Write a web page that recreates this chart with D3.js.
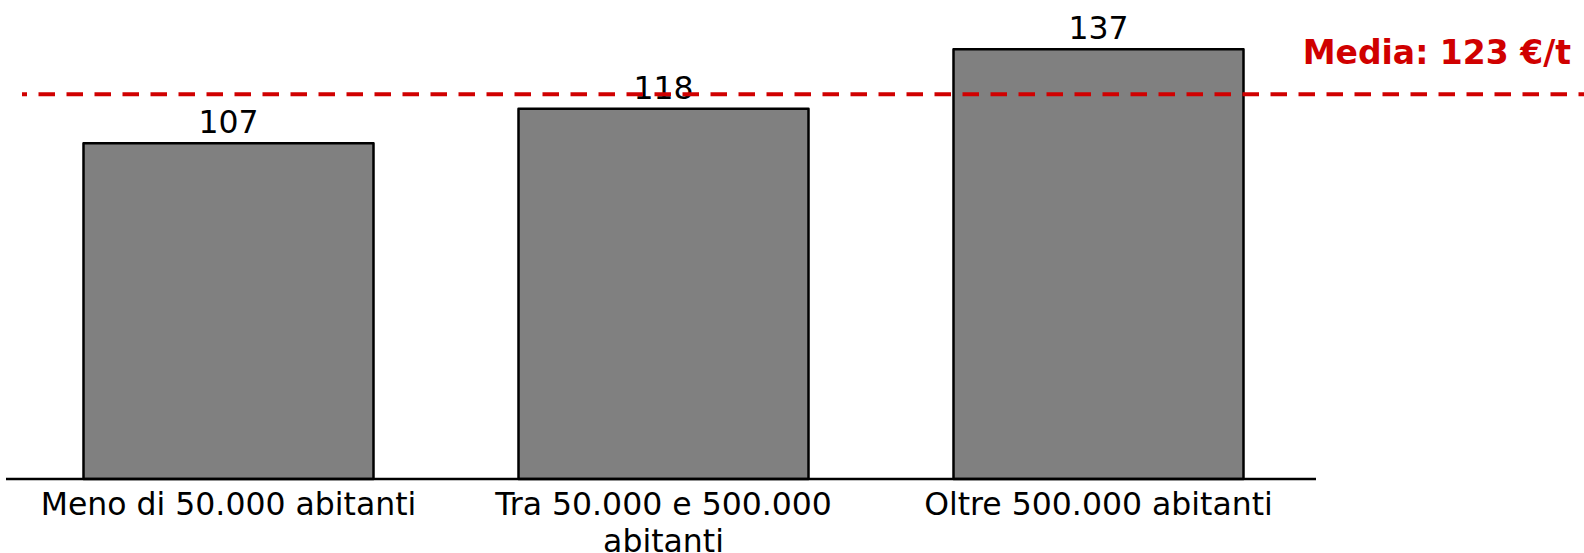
<!DOCTYPE html>
<html>
<head>
<meta charset="utf-8">
<script src="https://cdn.jsdelivr.net/npm/d3@7"></script>
<style>
  html, body { margin: 0; padding: 0; background: #fff; }
  svg { display: block; font-family: "DejaVu Sans", Verdana, sans-serif; }
</style>
</head>
<body>
<svg id="chart" width="1584" height="553"></svg>
<script>
// Costo medio per classe di popolazione (€/t)
const categories = ["Meno di 50.000 abitanti", "Tra 50.000 e 500.000 abitanti", "Oltre 500.000 abitanti"];
const values = [107, 118, 137];
const mediaValue = 123;
const mediaLabel = "Media: 123 €/t";

const W = 1584, H = 553;
const svg = d3.select("#chart");

const baseY = 479;
const x = d3.scaleBand()
  .domain(categories)
  .range([11, 1316])
  .paddingInner(1 / 3)
  .paddingOuter(1 / 6);

const y = d3.scaleLinear()
  .domain([0, 152.7])
  .range([baseY, 0]);

// Bars
svg.append("g")
  .selectAll("rect")
  .data(values)
  .join("rect")
  .attr("x", (d, i) => x(categories[i]))
  .attr("y", d => y(d))
  .attr("width", x.bandwidth())
  .attr("height", d => y(0) - y(d))
  .attr("fill", "#808080")
  .attr("stroke", "#000")
  .attr("stroke-width", 2.5)
  .attr("stroke-linejoin", "round");

// Value labels
svg.append("g")
  .selectAll("text")
  .data(values)
  .join("text")
  .attr("x", (d, i) => x(categories[i]) + x.bandwidth() / 2)
  .attr("y", d => y(d) - 10)
  .attr("text-anchor", "middle")
  .attr("font-size", 31.5)
  .attr("fill", "#000")
  .text(d => d);

// Category axis
const xAxis = d3.axisBottom(x).tickSize(0).tickPadding(0);
const gx = svg.append("g")
  .attr("transform", `translate(0,${baseY})`)
  .call(xAxis);
gx.select(".domain").remove();
gx.selectAll("text")
  .attr("font-size", 31.5)
  .attr("font-family", "'DejaVu Sans', Verdana, sans-serif")
  .attr("fill", "#000")
  .attr("y", 36)
  .attr("dy", 0)
  .each(function () { wrap(d3.select(this), x.step()); });

svg.append("line")
  .attr("x1", 6)
  .attr("x2", 1316)
  .attr("y1", baseY)
  .attr("y2", baseY)
  .attr("stroke", "#000")
  .attr("stroke-width", 2.5);

// Average reference line
svg.append("line")
  .attr("x1", 22)
  .attr("x2", W)
  .attr("y1", y(mediaValue) + 1)
  .attr("y2", y(mediaValue) + 1)
  .attr("stroke", "#D00000")
  .attr("stroke-width", 4)
  .attr("stroke-dasharray", "16.5 11.5")
  .attr("stroke-dashoffset", 11.5);

svg.append("text")
  .attr("x", 1571)
  .attr("y", 64)
  .attr("text-anchor", "end")
  .attr("font-size", 33)
  .attr("font-weight", "bold")
  .attr("fill", "#D00000")
  .text(mediaLabel);

function wrap(textSel, width) {
  const words = textSel.text().split(/\s+/);
  const x0 = textSel.attr("x") || 0;
  const y0 = +textSel.attr("y");
  const lineHeight = 37;
  textSel.text(null);
  let line = [];
  let tspan = textSel.append("tspan").attr("x", x0).attr("y", y0);
  let lineNo = 0;
  for (const w of words) {
    line.push(w);
    tspan.text(line.join(" "));
    if (tspan.node().getComputedTextLength() > width && line.length > 1) {
      line.pop();
      tspan.text(line.join(" "));
      line = [w];
      lineNo++;
      tspan = textSel.append("tspan").attr("x", x0).attr("y", y0 + lineNo * lineHeight).text(w);
    }
  }
}
</script>
</body>
</html>
